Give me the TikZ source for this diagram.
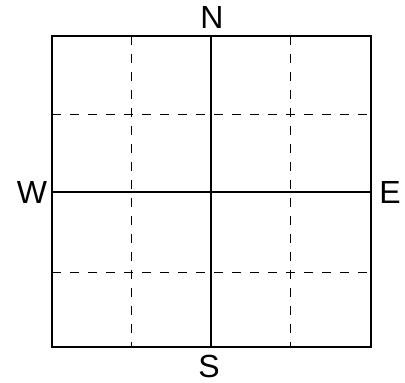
\documentclass[tikz,border=0pt]{standalone}
\usepackage{fontspec}
\setmainfont{Liberation Sans}
\begin{document}
\begin{tikzpicture}[x=1pt,y=-1pt,
  frame/.style={line width=1.4pt},
  axis/.style={line width=1.1pt},
  grid/.style={line width=0.9pt, dash pattern=on 9pt off 9pt},
  lbl/.style={font=\fontsize{32}{32}\selectfont, inner sep=0pt, anchor=center}]
\useasboundingbox (0,0) rectangle (405,383);
\coordinate (tl) at (52,36);
\coordinate (br) at (371,347);
\coordinate (nt) at (211,36);
\coordinate (sb) at (211,347);
\coordinate (wl) at (52,192);
\coordinate (er) at (371,192);
\coordinate (v1t) at (131,36);
\coordinate (v1b) at (131,347);
\coordinate (v2t) at (290,36);
\coordinate (v2b) at (290,347);
\coordinate (h1l) at (52,114);
\coordinate (h1r) at (371,114);
\coordinate (h2l) at (52,272);
\coordinate (h2r) at (371,272);
\draw[grid] (v1t) -- (v1b);
\draw[grid] (v2t) -- (v2b);
\draw[grid] (h1l) -- (h1r);
\draw[grid] (h2l) -- (h2r);
\draw[axis] (nt) -- (sb);
\draw[axis] (wl) -- (er);
\draw[frame] (tl) rectangle (br);
\node[lbl] (N) at (212,17) {N};
\node[lbl] (S) at (209,366.5) {S};
\node[lbl] (W) at (32,192) {W};
\node[lbl] (E) at (390,192) {E};
\end{tikzpicture}
\end{document}
